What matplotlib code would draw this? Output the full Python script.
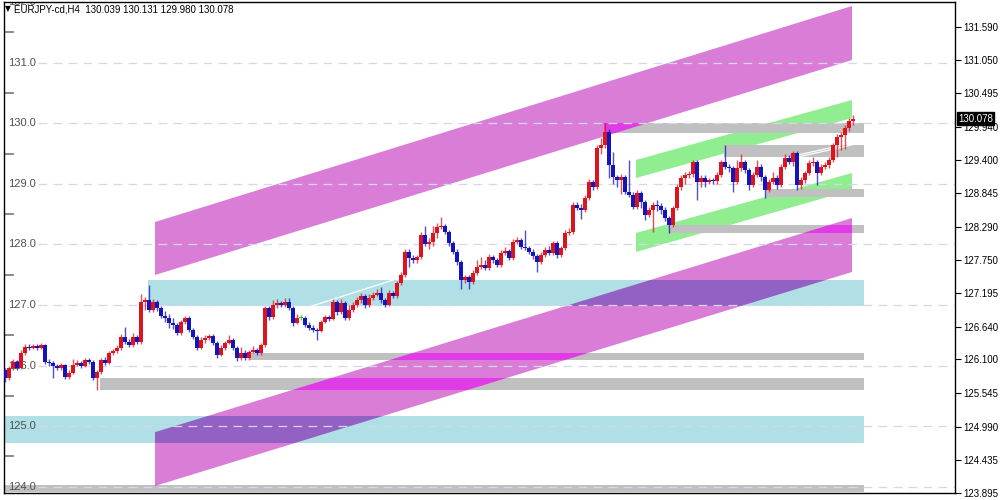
import numpy as np
import matplotlib
matplotlib.use("Agg")
import matplotlib.pyplot as plt
import matplotlib.transforms as mtransforms
from matplotlib.patches import Polygon, Rectangle

plt.rcParams["font.family"] = ["Liberation Sans", "DejaVu Sans"]

SYMBOL = "EURJPY-cd,H4"
LAST_BAR = (130.039, 130.131, 129.980, 130.078)  # open, high, low, close

# H4 bars, oldest first (open of each bar = previous close)
FIRST_OPEN = 125.93
CLOSES = [
    125.79, 125.96, 126.06, 125.96, 126.21, 126.31, 126.29, 126.32, 126.29, 126.34,
    126.06, 126.04, 125.99, 125.96, 126.01, 125.81, 125.88, 126.01, 126.04, 125.99,
    126.09, 126.06, 125.79, 125.89, 126.09, 126.04, 126.21, 126.24, 126.29, 126.47,
    126.39, 126.34, 126.47, 126.39, 127.05, 127.08, 126.92, 127.05, 126.95, 126.82,
    126.79, 126.70, 126.67, 126.54, 126.72, 126.79, 126.59, 126.47, 126.29, 126.42,
    126.46, 126.49, 126.37, 126.17, 126.29, 126.37, 126.42, 126.29, 126.12, 126.21,
    126.12, 126.22, 126.26, 126.21, 126.34, 126.95, 126.80, 127.00, 127.03, 127.00,
    127.05, 126.95, 126.70, 126.79, 126.79, 126.67, 126.62, 126.59, 126.57, 126.72,
    126.80, 126.77, 127.05, 126.88, 127.03, 126.79, 126.92, 127.00, 127.08, 127.15,
    127.00, 127.12, 127.17, 127.20, 127.08, 127.00, 127.20, 127.15, 127.36, 127.50,
    127.88, 127.78, 127.74, 127.79, 128.16, 128.01, 128.04, 128.19, 128.29, 128.30,
    128.21, 128.02, 127.88, 127.71, 127.41, 127.46, 127.38, 127.53, 127.63, 127.66,
    127.61, 127.79, 127.74, 127.66, 127.86, 127.89, 127.78, 128.04, 128.07, 127.96,
    127.94, 127.88, 127.81, 127.71, 127.83, 127.91, 127.86, 128.02, 127.83, 127.94,
    128.19, 128.21, 128.65, 128.60, 128.57, 128.77, 129.03, 128.95, 129.59, 129.64,
    129.86, 129.31, 129.11, 129.06, 129.11, 128.87, 128.82, 128.62, 128.85, 128.70,
    128.49, 128.57, 128.65, 128.63, 128.57, 128.44, 128.32, 128.60, 128.95, 129.10,
    129.15, 129.16, 129.36, 129.03, 129.10, 129.03, 129.06, 129.05, 129.15, 129.36,
    129.28, 129.26, 129.03, 129.26, 129.36, 129.23, 128.98, 129.15, 129.28, 129.11,
    128.90, 129.03, 129.10, 128.98, 129.28, 129.43, 129.36, 129.51, 128.98, 129.06,
    129.18, 129.34, 129.36, 129.18, 129.28, 129.31, 129.39, 129.64, 129.77, 129.81,
    129.92, 130.04, 130.078,
]
HIGHS = [
    125.96, 125.99, 126.10, 126.09, 126.25, 126.36, 126.36, 126.36, 126.35, 126.37,
    126.36, 126.10, 126.07, 126.02, 126.04, 126.03, 125.92, 126.10, 126.09, 126.08,
    126.12, 126.12, 126.09, 125.93, 126.12, 126.14, 126.24, 126.28, 126.34, 126.52,
    126.63, 126.44, 126.53, 126.50, 127.18, 127.13, 127.33, 127.10, 127.08, 126.98,
    126.90, 126.85, 126.78, 126.70, 126.75, 126.82, 126.82, 126.62, 126.50, 126.47,
    126.50, 126.52, 126.52, 126.40, 126.34, 126.40, 126.50, 126.45, 126.32, 126.30,
    126.26, 126.25, 126.32, 126.29, 126.38, 126.98, 126.98, 127.08, 127.10, 127.06,
    127.12, 127.12, 126.98, 126.85, 126.83, 126.82, 126.72, 126.67, 126.62, 126.76,
    126.84, 126.83, 127.10, 127.08, 127.10, 127.06, 127.00, 127.05, 127.13, 127.20,
    127.18, 127.18, 127.22, 127.27, 127.30, 127.12, 127.24, 127.23, 127.40, 127.55,
    127.93, 127.93, 127.82, 127.83, 128.20, 128.30, 128.10, 128.30, 128.35, 128.45,
    128.34, 128.24, 128.06, 127.92, 127.74, 127.50, 127.50, 127.57, 127.75, 127.80,
    127.74, 127.84, 127.82, 127.78, 127.90, 127.96, 127.92, 128.09, 128.12, 128.10,
    128.24, 127.98, 127.92, 127.84, 127.87, 127.95, 127.98, 128.06, 128.05, 127.98,
    128.24, 128.27, 128.70, 128.70, 128.66, 128.82, 129.08, 129.06, 129.64, 129.75,
    130.00, 129.90, 129.52, 129.15, 129.16, 129.14, 129.39, 128.86, 128.90, 128.88,
    128.74, 128.62, 128.70, 128.74, 128.68, 128.61, 128.47, 128.64, 129.00, 129.15,
    129.20, 129.22, 129.40, 129.40, 129.14, 129.14, 129.10, 129.10, 129.20, 129.40,
    129.64, 129.32, 129.30, 129.40, 129.50, 129.40, 129.27, 129.20, 129.40, 129.32,
    129.15, 129.08, 129.20, 129.14, 129.33, 129.50, 129.48, 129.55, 129.55, 129.12,
    129.22, 129.40, 129.45, 129.40, 129.32, 129.36, 129.44, 129.68, 129.82, 129.86,
    129.97, 130.08, 130.131,
]
LOWS = [
    125.73, 125.76, 125.93, 125.93, 125.94, 126.18, 126.26, 126.27, 126.26, 126.27,
    126.02, 126.00, 125.79, 125.92, 125.93, 125.78, 125.78, 125.86, 125.99, 125.96,
    125.97, 126.03, 125.76, 125.60, 125.86, 126.01, 126.02, 126.17, 126.21, 126.26,
    126.36, 126.30, 126.31, 126.35, 126.35, 126.92, 126.88, 126.88, 126.90, 126.78,
    126.72, 126.62, 126.60, 126.50, 126.50, 126.69, 126.55, 126.43, 126.25, 126.27,
    126.38, 126.42, 126.34, 126.13, 126.15, 126.26, 126.35, 126.25, 126.08, 126.09,
    126.09, 126.09, 126.20, 126.18, 126.18, 126.31, 126.75, 126.77, 126.95, 126.96,
    126.97, 126.92, 126.66, 126.68, 126.75, 126.63, 126.58, 126.55, 126.42, 126.55,
    126.70, 126.74, 126.75, 126.84, 126.85, 126.75, 126.76, 126.88, 126.96, 127.04,
    126.95, 126.97, 127.08, 127.14, 127.04, 126.96, 126.98, 127.12, 127.12, 127.33,
    127.47, 127.62, 127.70, 127.70, 127.76, 127.97, 127.92, 127.98, 128.10, 128.25,
    128.17, 127.98, 127.84, 127.66, 127.27, 127.37, 127.27, 127.34, 127.50, 127.60,
    127.57, 127.58, 127.70, 127.62, 127.63, 127.82, 127.74, 127.75, 128.00, 127.92,
    127.90, 127.84, 127.76, 127.54, 127.68, 127.80, 127.82, 127.83, 127.78, 127.80,
    127.90, 128.15, 128.18, 128.56, 128.42, 128.54, 128.74, 128.90, 128.92, 129.50,
    129.60, 129.10, 129.00, 128.95, 128.84, 128.83, 128.78, 128.58, 128.58, 128.60,
    128.40, 128.45, 128.20, 128.55, 128.50, 128.38, 128.19, 128.28, 128.57, 128.90,
    129.00, 129.10, 129.12, 128.73, 128.95, 128.95, 128.99, 129.00, 129.00, 129.12,
    129.24, 129.20, 128.86, 129.00, 129.22, 129.18, 128.90, 128.94, 129.12, 129.05,
    128.77, 128.86, 128.99, 128.92, 128.95, 129.25, 129.32, 129.30, 128.90, 128.92,
    129.02, 129.15, 129.30, 128.98, 129.14, 129.24, 129.27, 129.36, 129.45, 129.56,
    129.58, 129.88, 129.98,
]

GRID_LEVELS = [124, 125, 126, 127, 128, 129, 130, 131, 132]
RIGHT_TICKS = [131.590, 131.050, 130.495, 129.940, 129.400, 128.845, 128.290,
               127.750, 127.195, 126.640, 126.100, 125.545, 124.990, 124.435, 123.895]

# drawn objects, in (bar index, price)
# channels: x0, x1, top0, bottom0, top1, bottom1
MAGENTA_CHANNELS = [
    (37.5, 211.75, 128.37, 127.495, 131.937, 131.045),
    (37.5, 211.75, 124.90, 124.011, 128.436, 127.545),
]
GREEN_CHANNELS = [
    (157.75, 211.75, 129.394, 129.097, 130.385, 130.087),
    (157.75, 211.75, 128.189, 127.875, 129.179, 128.899),
]
# zones: x start, low, high (all run to ZONE_END)
ZONE_END = 214.75
BLUE_ZONES = [
    (35.75, 126.983, 127.412),
    (-5, 124.721, 125.167),
]
GRAY_ZONES = [
    (149.75, 129.84, 130.00),
    (179.75, 129.444, 129.642),
    (190.25, 128.783, 128.915),
    (165.75, 128.19, 128.321),
    (61.25, 126.091, 126.207),
    (23.75, 125.596, 125.794),
    (-5, 123.912, 124.027),
]
TRENDLINES = [
    ((76.75, 126.983), (97.0, 127.412)),
    ((198.25, 129.477), (211.75, 129.675)),
    ((198.25, 129.444), (211.75, 129.642)),
]

COLOR = {
    "up": "#DC141E",
    "down": "#1414BE",
    "doji": "#22C022",
    "magenta": "#DA7DD6",
    "green": "#90EE90",
    "blue": "#B0E0E6",
    "gray": "#C0C0C0",
    "purple": "#9361C4",
    "hot": "#E03CE6",
    "grid": "#D6D6F0",
}


def channel(ch, color, z):
    x0, x1, t0, b0, t1, b1 = ch
    return Polygon([(x0, t0), (x1, t1), (x1, b1), (x0, b0)], closed=True,
                   facecolor=color, edgecolor="none", zorder=z)


def zone(z_def, color, z):
    x0, lo, hi = z_def
    return Rectangle((x0, lo), ZONE_END - x0, hi - lo,
                     facecolor=color, edgecolor="none", zorder=z)


def main():
    fig = plt.figure(figsize=(10, 5), dpi=100)
    ax = fig.add_axes([0.004, 0.014, 0.951, 0.982])

    closes = np.array(CLOSES)
    highs = np.array(HIGHS)
    lows = np.array(LOWS)
    opens = np.concatenate([[FIRST_OPEN], closes[:-1]])
    x = np.arange(len(closes))

    # background objects
    magenta = []
    for ch in MAGENTA_CHANNELS:
        p = channel(ch, COLOR["magenta"], 1)
        ax.add_patch(p)
        magenta.append(p)
    for zd in BLUE_ZONES:
        ax.add_patch(zone(zd, COLOR["blue"], 1.1))
    for ch in GREEN_CHANNELS:
        ax.add_patch(channel(ch, COLOR["green"], 1.2))
    for zd in GRAY_ZONES:
        ax.add_patch(zone(zd, COLOR["gray"], 1.3))
    # overlap colours where zones cross the magenta channels
    for mp in magenta:
        for zd in BLUE_ZONES:
            r = zone(zd, COLOR["purple"], 1.5)
            ax.add_patch(r)
            r.set_clip_path(mp)
        for zd in GRAY_ZONES:
            r = zone(zd, COLOR["hot"], 1.5)
            ax.add_patch(r)
            r.set_clip_path(mp)

    for (xa, ya), (xb, yb) in TRENDLINES:
        ax.plot([xa, xb], [ya, yb], color="white", lw=0.9, zorder=2.5)

    # grid + inner labels
    blend = mtransforms.blended_transform_factory(ax.transAxes, ax.transData)
    for lvl in GRID_LEVELS:
        ax.axhline(lvl, xmin=0.036, xmax=1, color=COLOR["grid"], lw=0.9,
                   dashes=(7, 5), zorder=2)
        ax.text(0.0045, lvl, f"{lvl:.1f}", transform=blend, fontsize=8,
                color="#505050", va="center", ha="left", zorder=2, clip_on=True)
        ax.plot([0, 0.009], [lvl - 0.5, lvl - 0.5], transform=blend,
                color="#808080", lw=1.3, zorder=2)

    # candles
    diff = closes - opens
    body_col = np.where(np.abs(diff) < 0.005, COLOR["doji"],
                        np.where(diff > 0, COLOR["up"], COLOR["down"]))
    ax.vlines(x, lows, highs, colors=body_col, lw=1.0, alpha=0.75, zorder=3)
    ax.bar(x, np.maximum(np.abs(diff), 0.012), bottom=np.minimum(opens, closes),
           width=0.8, color=body_col, linewidth=0, zorder=4)

    ax.set_xlim(-0.25, 237.5)
    ax.set_ylim(123.895, 132.003)

    ax.set_xticks([])
    ax.yaxis.tick_right()
    ax.set_yticks(RIGHT_TICKS)
    ax.set_yticklabels([f"{v:.3f}" for v in RIGHT_TICKS])
    ax.tick_params(axis="y", length=4, width=0.8, labelsize=7, pad=2)
    for s in ax.spines.values():
        s.set_color("black")
        s.set_linewidth(1)

    # current price tag
    ax.text(1.003, LAST_BAR[3], f"{LAST_BAR[3]:.3f}", transform=blend,
            fontsize=7, color="white", va="center", ha="left", zorder=10,
            clip_on=False,
            bbox=dict(boxstyle="square,pad=0.12", fc="black", ec="black"))

    # header
    fig.text(0.005, 0.982, "\u25bc", fontsize=5.5, va="center", ha="left",
             family=["DejaVu Sans"], zorder=5)
    fig.text(0.014, 0.982, "{}  {:.3f} {:.3f} {:.3f} {:.3f}".format(SYMBOL, *LAST_BAR),
             fontsize=7, va="center", ha="left", zorder=5)

    fig.savefig("out.png", dpi=100)


if __name__ == "__main__":
    main()
